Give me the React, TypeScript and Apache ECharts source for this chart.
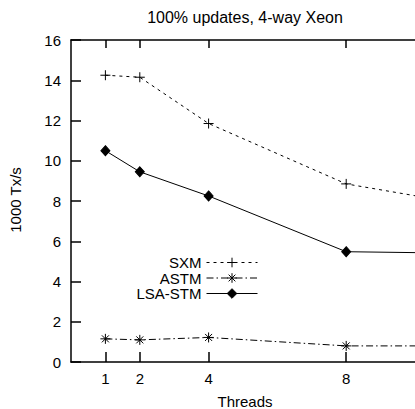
import React, { useEffect, useRef } from "react";
import * as echarts from "echarts";

const threads = [1, 2, 4, 8, 16];
const sxm = [14.25, 14.15, 11.85, 8.85, 6.5];
const astm = [1.15, 1.1, 1.22, 0.8, 0.8];
const lsa = [10.5, 9.45, 8.25, 5.48, 5.3];
const xTicks = [1, 2, 4, 8];
const titleText = "100% updates, 4-way Xeon";
const xName = "Threads";
const yName = "1000 Tx/s";

const FONT = "Liberation Sans, Arial, Helvetica, sans-serif";
const PLUS = "path://M0,5H10M5,0V10";
const STAR = "path://M0,5H10M5,0V10M1.5,1.5L8.5,8.5M1.5,8.5L8.5,1.5";
const DASH_SXM = [3, 4];
const DASH_ASTM = [7, 3, 1.5, 3];

export default function App() {
  const ref = useRef<HTMLDivElement>(null);
  useEffect(() => {
    if (!ref.current) return;
    const chart = echarts.init(ref.current, null, { renderer: "svg" });
    const pairs = (ys: number[]) => threads.map((t, i) => [t, ys[i]]);
    const axisLine = { show: true, lineStyle: { color: "#000", width: 1.5 } };
    const mk = (name: string, ys: number[], symbol: string, size: any, dash: any) => ({
      name,
      type: "line",
      data: pairs(ys),
      symbol,
      symbolSize: size,
      showSymbol: true,
      clip: true,
      lineStyle: { color: "#000", width: 1, type: dash },
      itemStyle: { color: "#000", borderColor: "#000", borderWidth: 1 },
      emphasis: { disabled: true },
    });
    const legendBase = {
      orient: "vertical",
      align: "right",
      right: 157,
      padding: 0,
      itemWidth: 51,
      itemHeight: 12,
      itemStyle: { borderWidth: 1, borderColor: "#000", color: "#000" },
      textStyle: { fontSize: 15, lineHeight: 15, color: "#000", fontFamily: FONT },
      selectedMode: false,
    };
    chart.setOption({
      animation: false,
      backgroundColor: "#fff",
      textStyle: { fontFamily: FONT },
      grid: { left: 71, top: 40, bottom: 47, right: -3, containLabel: false },
      xAxis: [
        {
          type: "value",
          min: 0,
          max: 10,
          position: "bottom",
          axisLine,
          axisTick: { show: true, inside: true, length: 10, customValues: xTicks, lineStyle: { color: "#000", width: 1.5 } },
          axisLabel: { show: true, customValues: xTicks, fontSize: 15, color: "#000", margin: 9, fontFamily: FONT },
          splitLine: { show: false },
        },
        {
          type: "value",
          min: 0,
          max: 10,
          position: "top",
          axisLine,
          axisTick: { show: true, inside: true, length: 8, customValues: xTicks, lineStyle: { color: "#000", width: 1.5 } },
          axisLabel: { show: false },
          splitLine: { show: false },
        },
      ],
      yAxis: {
        type: "value",
        min: 0,
        max: 16,
        interval: 2,
        axisLine,
        axisTick: { show: true, inside: true, length: 10, lineStyle: { color: "#000", width: 1.5 } },
        axisLabel: { fontSize: 15, color: "#000", margin: 10, fontFamily: FONT },
        splitLine: { show: false },
      },
      legend: [
        { ...legendBase, data: ["SXM"], top: 255, lineStyle: { width: 1, color: "#000", type: DASH_SXM } },
        { ...legendBase, data: ["ASTM"], top: 270.5, lineStyle: { width: 1, color: "#000", type: DASH_ASTM } },
        { ...legendBase, data: ["LSA-STM"], top: 286, lineStyle: { width: 1, color: "#000", type: "solid" } },
      ],
      graphic: [
        {
          type: "text",
          x: 245,
          y: 17,
          style: { text: titleText, fill: "#000", font: `16px ${FONT}`, align: "center", verticalAlign: "middle" },
        },
        {
          type: "text",
          x: 245,
          y: 401,
          style: { text: xName, fill: "#000", font: `15px ${FONT}`, align: "center", verticalAlign: "middle" },
        },
        {
          type: "text",
          x: 15,
          y: 200,
          rotation: Math.PI / 2,
          style: { text: yName, fill: "#000", font: `15px ${FONT}`, align: "center", verticalAlign: "middle" },
        },
      ],
      series: [
        mk("SXM", sxm, PLUS, 10, DASH_SXM),
        mk("ASTM", astm, STAR, 10, DASH_ASTM),
        mk("LSA-STM", lsa, "diamond", [9, 10], "solid"),
      ],
    });
    return () => chart.dispose();
  }, []);
  return <div ref={ref} style={{ width: 415, height: 409, position: "absolute", left: 0, top: 0 }} />;
}
